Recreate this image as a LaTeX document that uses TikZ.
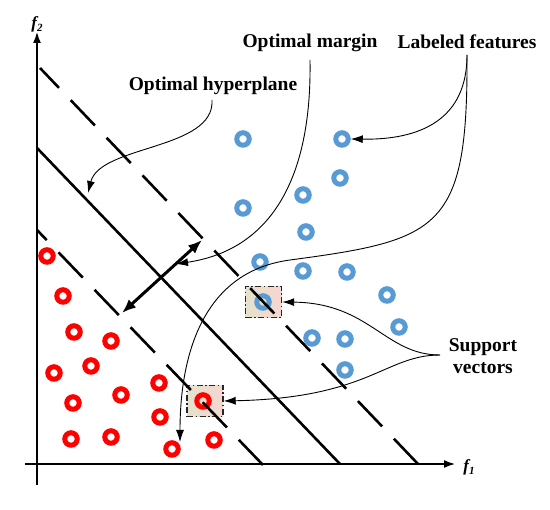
\documentclass[tikz,border=0pt]{standalone}
\usepackage{fontspec}
\setmainfont{Liberation Serif}
\usetikzlibrary{arrows.meta}
\definecolor{ptblue}{RGB}{88,155,212}
\definecolor{boxL}{RGB}{228,226,204}
\definecolor{boxR}{RGB}{246,214,208}
\begin{document}
\begin{tikzpicture}[x=1pt,y=-1pt,
  lbl/.style={font=\fontsize{19.5}{21}\selectfont\bfseries, inner sep=0pt, align=center},
  axlbl/.style={font=\fontsize{17}{17}\selectfont\bfseries\itshape, inner sep=0pt},
  bpt/.style={circle, draw=ptblue, line width=5pt, minimum size=12.5pt, inner sep=0pt},
  rpt/.style={circle, draw=red, line width=5pt, minimum size=12.5pt, inner sep=0pt},
  svbox/.style={draw=black!85, line width=1.4pt, dash pattern=on 6pt off 2.5pt on 1.5pt off 2.5pt,
    left color=boxL, right color=boxR, minimum width=36pt, minimum height=31pt, inner sep=0pt},
  conn/.style={line width=0.9pt, -{Latex[length=12pt,width=8pt]}},
  axis/.style={line width=2.4pt, -{Latex[length=12pt,width=8pt]}},
  plane/.style={line width=2.6pt},
  margin/.style={line width=2.6pt, dash pattern=on 35pt off 17pt},
  dbl/.style={line width=3pt, {Latex[length=14pt,width=11pt]}-{Latex[length=14pt,width=11pt]}}
]
\useasboundingbox (0,0) rectangle (550,510);

% support vector boxes
\node[svbox] (svR) at (205,401) {};
\node[svbox] (svB) at (263.5,302) {};

% blue points
\node[bpt] (b1) at (342,139) {};
\node[bpt] (b2) at (243,139) {};
\node[bpt] (b3) at (340,178) {};
\node[bpt] (b4) at (303,195) {};
\node[bpt] (b5) at (243,208) {};
\node[bpt] (b6) at (306,232) {};
\node[bpt] (b7) at (260,262) {};
\node[bpt] (b8) at (303,271) {};
\node[bpt] (b9) at (347,272) {};
\node[bpt] (b10) at (387,295) {};
\node[bpt] (b11) at (399,327) {};
\node[bpt] (b12) at (312,338) {};
\node[bpt] (b13) at (345,339) {};
\node[bpt] (b14) at (345,370) {};
\node[bpt] (bsv) at (263,302) {};

% red points
\node[rpt] (r1) at (47,256) {};
\node[rpt] (r2) at (63,296) {};
\node[rpt] (r3) at (74,332) {};
\node[rpt] (r4) at (111,341) {};
\node[rpt] (r5) at (54,373) {};
\node[rpt] (r6) at (91,366) {};
\node[rpt] (r7) at (73,403) {};
\node[rpt] (r8) at (121,395) {};
\node[rpt] (r9) at (159,383) {};
\node[rpt] (r10) at (160,417) {};
\node[rpt] (r11) at (71,439) {};
\node[rpt] (r12) at (111,437) {};
\node[rpt] (r13) at (172,449) {};
\node[rpt] (r14) at (214,440) {};
\node[rpt] (rsv) at (203,401) {};

% axes
\coordinate (yb) at (37,485);
\coordinate (yt) at (37,31);
\coordinate (xl) at (25,464);
\coordinate (xr) at (456,464);
\draw[axis] (yb) -- (yt);
\draw[axis] (xl) -- (xr);
\node[axlbl] (f2) at (37,24) {f\raisebox{-3pt}{\fontsize{11}{11}\selectfont 2}};
\node[axlbl] (f1) at (469,467) {f\raisebox{-3pt}{\fontsize{11}{11}\selectfont 1}};

% hyperplane and margins
\coordinate (hpA) at (37,148);
\coordinate (hpB) at (340,464);
\coordinate (upA) at (40,68);
\coordinate (upB) at (418,464);
\coordinate (loA) at (37,230);
\coordinate (loB) at (263,465);
\draw[plane] (hpA) -- (hpB);
\draw[margin] (upB) -- (upA);
\draw[margin] (loB) -- (loA);

% margin double arrow
\coordinate (ma) at (122,313);
\coordinate (mb) at (202,240);
\draw[dbl] (ma) -- (mb);

% labels
\node[lbl] (lhyp) at (213,86) {Optimal hyperplane};
\node[lbl] (lmar) at (310,43) {Optimal margin};
\node[lbl] (lfea) at (467,42) {Labeled features};
\node[lbl] (lsup) at (483,356) {Support\\[1pt]vectors};

% connectors
\coordinate (hypS) at (212,100);
\coordinate (hypE) at (88,193);
\draw[conn] (hypS) .. controls (215,150) and (100,145) .. (hypE);

\coordinate (marS) at (310,60);
\coordinate (marE) at (176,264);
\draw[conn] (marS) .. controls (312,180) and (270,250) .. (marE);

\coordinate (feaS) at (467,55);
\coordinate (feaM) at (290,260);
\coordinate (feaE) at (180,442);
\draw[conn] (feaS) .. controls (467,120) and (420,140) .. (b1.east);
\draw[conn] (feaS) .. controls (468,230) and (440,240) .. (feaM)
  .. controls (200,272) and (180,360) .. (feaE);

\coordinate (supS) at (440,355);
\draw[conn] (supS) .. controls (385,355) and (370,303) .. (svB.east);
\draw[conn] (supS) .. controls (385,355) and (370,398) .. (svR.east);
\end{tikzpicture}
\end{document}
